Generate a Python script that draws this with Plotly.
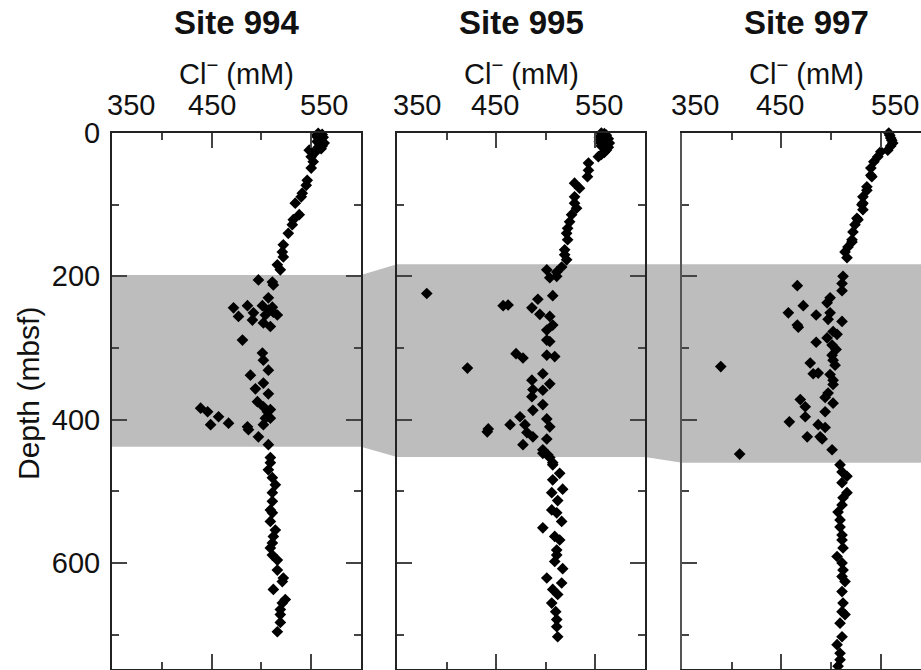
import plotly.graph_objects as go

# ---------------- data ----------------
sites = ["Site 994", "Site 995", "Site 997"]

depth_994 = [0.5, 2, 4, 6, 8, 10, 12, 14, 16, 18, 20, 22, 24, 27, 33, 40, 49, 66, 73, 84, 89, 98, 114, 121, 128,
             140, 156, 166, 173, 184, 191, 205, 208, 212, 230, 241, 241, 243, 244, 247, 250, 251, 254, 254, 256,
             261, 265, 270, 289, 307, 317, 331, 338, 349, 357, 364, 375, 382, 384, 386, 389, 389, 396, 398, 398,
             405, 407, 407, 410, 414, 424, 435, 453, 460, 470, 481, 491, 502, 514, 526, 530, 542, 554, 563, 572,
             579, 589, 596, 610, 621, 626, 637, 651, 656, 665, 672, 683, 696]
cl_994 = [557, 561, 555, 562, 558, 560, 556, 563, 559, 561, 557, 560, 548, 554, 550, 552, 550, 546, 545, 541, 540,
          534, 538, 532, 531, 527, 522, 521, 522, 516, 519, 497, 511, 512, 507, 486, 501, 511, 472, 507, 512, 492,
          516, 504, 477, 491, 502, 509, 481, 501, 502, 507, 489, 502, 494, 507, 496, 502, 439, 509, 446, 506, 457,
          504, 509, 467, 449, 502, 486, 487, 497, 507, 509, 509, 507, 511, 514, 511, 511, 509, 511, 509, 514, 512,
          511, 509, 511, 516, 516, 522, 521, 512, 524, 521, 519, 519, 519, 516]

depth_995 = [0, 1, 3, 6, 8, 12, 14, 18, 20, 24, 27, 30, 33, 10, 22, 42, 52, 61, 70, 77, 89, 98, 105, 114, 124, 133,
             140, 149, 163, 170, 177, 187, 191, 194, 200, 202, 224, 227, 232, 240, 241, 244, 253, 256, 268, 275, 289,
             291, 308, 310, 312, 314, 328, 336, 345, 350, 358, 359, 368, 379, 387, 396, 399, 407, 407, 410, 413,
             417, 418, 424, 427, 435, 442, 447, 449, 453, 460, 463, 475, 484, 497, 502, 513, 526, 530, 542, 551,
             563, 568, 582, 589, 598, 608, 621, 628, 637, 644, 656, 668, 679, 689, 703]
cl_995 = [556, 559, 561, 554, 563, 554, 564, 556, 563, 561, 559, 556, 553, 560, 561, 543, 543, 542, 529, 534, 529,
          529, 531, 526, 524, 522, 521, 522, 519, 519, 521, 516, 501, 511, 511, 504, 380, 507, 492, 462, 457, 486,
          494, 504, 507, 501, 501, 504, 470, 501, 509, 477, 421, 497, 486, 504, 487, 497, 486, 497, 487, 474, 501,
          464, 479, 504, 442, 441, 481, 487, 501, 477, 497, 497, 502, 504, 507, 507, 514, 507, 517, 506, 512, 506,
          511, 516, 497, 509, 514, 511, 511, 509, 517, 501, 516, 507, 512, 506, 510, 511, 511, 512]

depth_997 = [0, 3, 7, 10, 14, 18, 24, 26, 33, 40, 49, 59, 61, 75, 80, 89, 98, 100, 107, 119, 121, 128, 138, 149,
             152, 159, 166, 174, 200, 210, 213, 220, 230, 237, 241, 251, 251, 254, 260, 263, 268, 271, 277, 281,
             286, 292, 296, 302, 310, 317, 321, 324, 326, 335, 336, 337, 345, 351, 363, 369, 372, 377, 382, 389,
             396, 403, 407, 411, 424, 424, 427, 442, 448, 463, 473, 479, 488, 502, 509, 519, 529, 540, 550, 561,
             568, 579, 591, 600, 610, 619, 626, 640, 656, 668, 672, 684, 703, 714, 726, 735, 744]
cl_997 = [558, 559, 560, 561, 562, 560, 557, 550, 547, 543, 540, 540, 541, 536, 536, 532, 532, 531, 532, 526, 527,
          524, 522, 521, 521, 517, 514, 516, 512, 511, 466, 511, 499, 496, 472, 457, 499, 485, 497, 511, 466, 467,
          502, 506, 496, 485, 501, 505, 501, 502, 479, 504, 389, 487, 482, 499, 502, 502, 497, 494, 469, 502, 474,
          494, 474, 458, 487, 494, 476, 489, 491, 501, 408, 509, 511, 516, 511, 516, 512, 511, 507, 509, 509, 511,
          511, 512, 506, 511, 512, 511, 514, 511, 512, 511, 514, 509, 511, 506, 509, 509, 507]

# shaded interval (top, bottom depth) per site
band_top = [198, 183, 183]
band_bot = [438, 452, 460]

x_ticks = [350, 450, 550]
x_minor = [400, 500, 600]
y_ticks = [0, 200, 400, 600]
y_minor = [100, 300, 500, 700]

# ---------------- layout geometry ----------------
W, H = 921, 670
ML, MT, MB = 112, 133, 1
PW = W - ML
def px2dom(p):
    return (p - ML) / PW

doms = [(px2dom(112), px2dom(361)), (px2dom(397), px2dom(645)), (px2dom(682), 1.0)]
xranges = [[350, 600], [350, 600], [350, 350 + (921 - 682) * 250 / 248.5]]
yrange = [748, 0]

FONT = "Liberation Sans, Arial, sans-serif"
LINE = "#222222"
TXT = "#111111"

fig = go.Figure()
depths = [depth_994, depth_995, depth_997]
cls = [cl_994, cl_995, cl_997]
for i in range(3):
    fig.add_trace(go.Scatter(
        x=cls[i], y=depths[i], mode="markers",
        marker=dict(symbol="diamond", size=9, color="black", line=dict(width=0)),
        xaxis="x" if i == 0 else f"x{i+1}", yaxis="y" if i == 0 else f"y{i+1}",
        cliponaxis=False, showlegend=False, hoverinfo="skip"))

for i in range(3):
    sfx = "" if i == 0 else str(i + 1)
    fig.layout[f"xaxis{sfx}"] = dict(
        domain=list(doms[i]), range=xranges[i], side="top", anchor=f"y{sfx}",
        showline=True, linecolor=LINE, linewidth=2, mirror="ticks",
        tickmode="array", tickvals=x_ticks, ticks="inside", ticklen=15, tickwidth=1.5,
        tickcolor="#444", showticklabels=False, showgrid=False, zeroline=False,
        minor=dict(tickmode="array", tickvals=x_minor, ticks="inside", ticklen=7,
                   tickwidth=1.5, tickcolor="#444", showgrid=False),
        fixedrange=True)
    fig.layout[f"yaxis{sfx}"] = dict(
        domain=[0, 1], range=yrange, anchor=f"x{sfx}",
        showline=True, linecolor=(LINE if i < 2 else "#555555"), linewidth=2,
        mirror=("ticks" if i < 2 else False),
        tickmode="array", tickvals=y_ticks, ticks="inside", ticklen=15, tickwidth=1.5,
        tickcolor="#444", showticklabels=(i == 0), showgrid=False, zeroline=False,
        tickfont=dict(family=FONT, size=29, color=TXT), ticklabelstandoff=4,
        minor=dict(tickmode="array", tickvals=y_minor, ticks="inside", ticklen=7,
                   tickwidth=1.5, tickcolor="#444", showgrid=False),
        fixedrange=True)

# shaded band across all panels (paper x, data y)
(a0, a1), (b0, b1), (c0, c1) = doms
pts_top = [(a0, band_top[0]), (a1, band_top[0]), (b0, band_top[1]), (b1, band_top[1]),
           (c0, band_top[2]), (c1, band_top[2])]
pts_bot = [(c1, band_bot[2]), (c0, band_bot[2]), (b1, band_bot[1]), (b0, band_bot[1]),
           (a1, band_bot[0]), (a0, band_bot[0])]
path = "M " + " L ".join(f"{x},{y}" for x, y in pts_top + pts_bot) + " Z"
fig.add_shape(type="path", path=path, xref="paper", yref="y", fillcolor="#bdbdbd",
              line=dict(width=0), layer="below")

# annotations: titles, axis titles, x tick labels
def ypix(p):
    return 1 + (MT - p) / (H - MT - MB)

label_shift = [[19, 0, 13], [20, -1, 4], [13, -1, 14]]
for i in range(3):
    xr = "x" if i == 0 else f"x{i+1}"
    fig.add_annotation(text=f"<b>{sites[i]}</b>", xref=xr, x=475, yref="paper", y=ypix(23),
                       showarrow=False, font=dict(family=FONT, size=33, color=TXT),
                       xanchor="center", yanchor="middle")
    fig.add_annotation(text="Cl<sup>−</sup> (mM)", xref=xr, x=475, yref="paper", y=ypix(72),
                       showarrow=False, font=dict(family=FONT, size=29, color=TXT),
                       xanchor="center", yanchor="middle")
    for v, s in zip(x_ticks, label_shift[i]):
        fig.add_annotation(text=str(v), xref=xr, x=v, xshift=s, yref="paper", y=ypix(105),
                           showarrow=False, font=dict(family=FONT, size=29, color=TXT),
                           xanchor="center", yanchor="middle")

fig.add_annotation(text="Depth (mbsf)", xref="paper", x=px2dom(28), yref="paper",
                   y=(H - MB - 394) / (H - MT - MB), textangle=-90, showarrow=False,
                   font=dict(family=FONT, size=30, color=TXT), xanchor="center", yanchor="middle")

fig.update_layout(width=W, height=H, margin=dict(l=ML, r=0, t=MT, b=MB),
                  paper_bgcolor="white", plot_bgcolor="rgba(0,0,0,0)", showlegend=False)

fig.write_html("out.html")
